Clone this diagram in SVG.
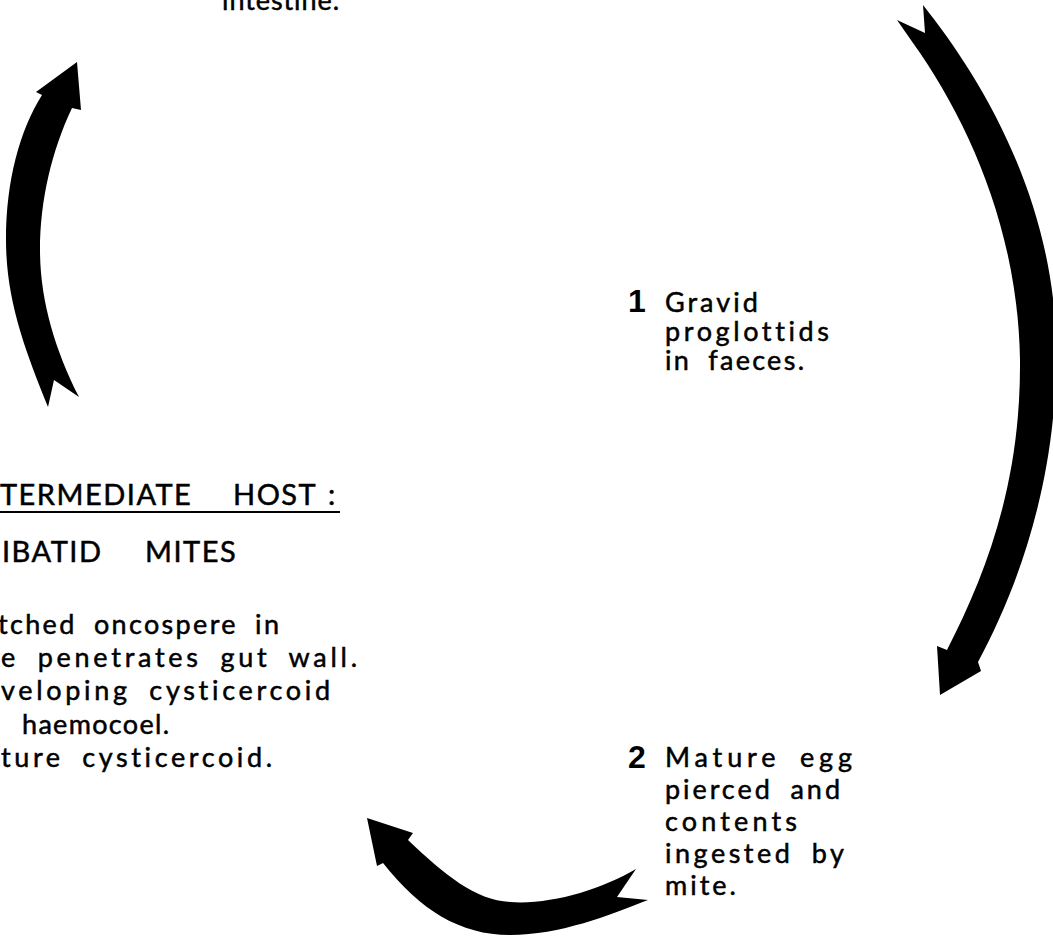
<svg xmlns="http://www.w3.org/2000/svg" width="1053" height="936" viewBox="0 0 1053 936">
<style>
  .t { font-family: Lato, "Open Sans", "Liberation Sans", sans-serif; font-size: 27px; fill: #000; stroke: #000; stroke-width: 0.5px; letter-spacing: 3px; word-spacing: 8px; }
  .caps { font-size: 29px; letter-spacing: 1.5px; }
  .num { font-family: "Liberation Sans", Arial, sans-serif; font-weight: bold; font-size: 32px; fill: #000; }
  .arrow { fill: #000; stroke: none; }
</style>
<rect width="1053" height="936" fill="#fff"/>
<g id="connectors">
  <path id="arrow-right" class="arrow" d="M923,5 C975,70 1052,190 1056,340 C1059,470 1022,580 978,662 L981,671 L940,695 L937,646 L947,650 C988,570 1021,480 1020,360 C1018,230 968,120 913,43 L897,20 L925,33 Z"/>
  <path id="arrow-bottom" class="arrow" d="M367,818 L413,833 L408,840 C445,875 475,900 510,902 C550,905 600,890 636,869 L617,897 L648,900 C610,915 560,935 510,935 C460,935 420,910 383,863 L377,866 Z"/>
  <path id="arrow-left" class="arrow" d="M77,62 L81,110 L72,108 C52,150 40,200 40,250 C40,300 55,350 79,397 L54,380 L48,407 C25,350 6,300 6,240 C6,180 20,130 42,95 L36,92 Z"/>
</g>
<g id="top-label">
  <text class="t" x="222" y="10" textLength="120">intestine.</text>
</g>
<g id="step1">
  <text class="num" x="628" y="312">1</text>
  <text class="t" x="665" y="312">Gravid</text>
  <text class="t" x="665" y="341" textLength="167">proglottids</text>
  <text class="t" x="665" y="370" textLength="142">in faeces.</text>
</g>
<g id="step2">
  <text class="num" x="628" y="768">2</text>
  <text class="t" x="665" y="767" textLength="190">Mature egg</text>
  <text class="t" x="665" y="799" textLength="178">pierced and</text>
  <text class="t" x="665" y="831" textLength="135">contents</text>
  <text class="t" x="665" y="863" textLength="182">ingested by</text>
  <text class="t" x="665" y="895">mite.</text>
</g>
<g id="intermediate-host">
  <text class="t caps" y="505"><tspan x="0">TERMEDIATE</tspan><tspan x="233">HOST</tspan><tspan x="328">:</tspan></text>
  <line x1="0" y1="512" x2="340" y2="512" stroke="#000" stroke-width="2"/>
  <text class="t caps" y="562"><tspan x="2">IBATID</tspan><tspan x="145">MITES</tspan></text>
  <text class="t" x="-2" y="634" textLength="284">tched oncospere in</text>
  <text class="t" x="1" y="667" textLength="359">e penetrates gut wall.</text>
  <text class="t" x="1" y="700" textLength="332">veloping cysticercoid</text>
  <text class="t" x="22" y="734" textLength="150">haemocoel.</text>
  <text class="t" x="1" y="767" textLength="274">ture cysticercoid.</text>
</g>
</svg>
